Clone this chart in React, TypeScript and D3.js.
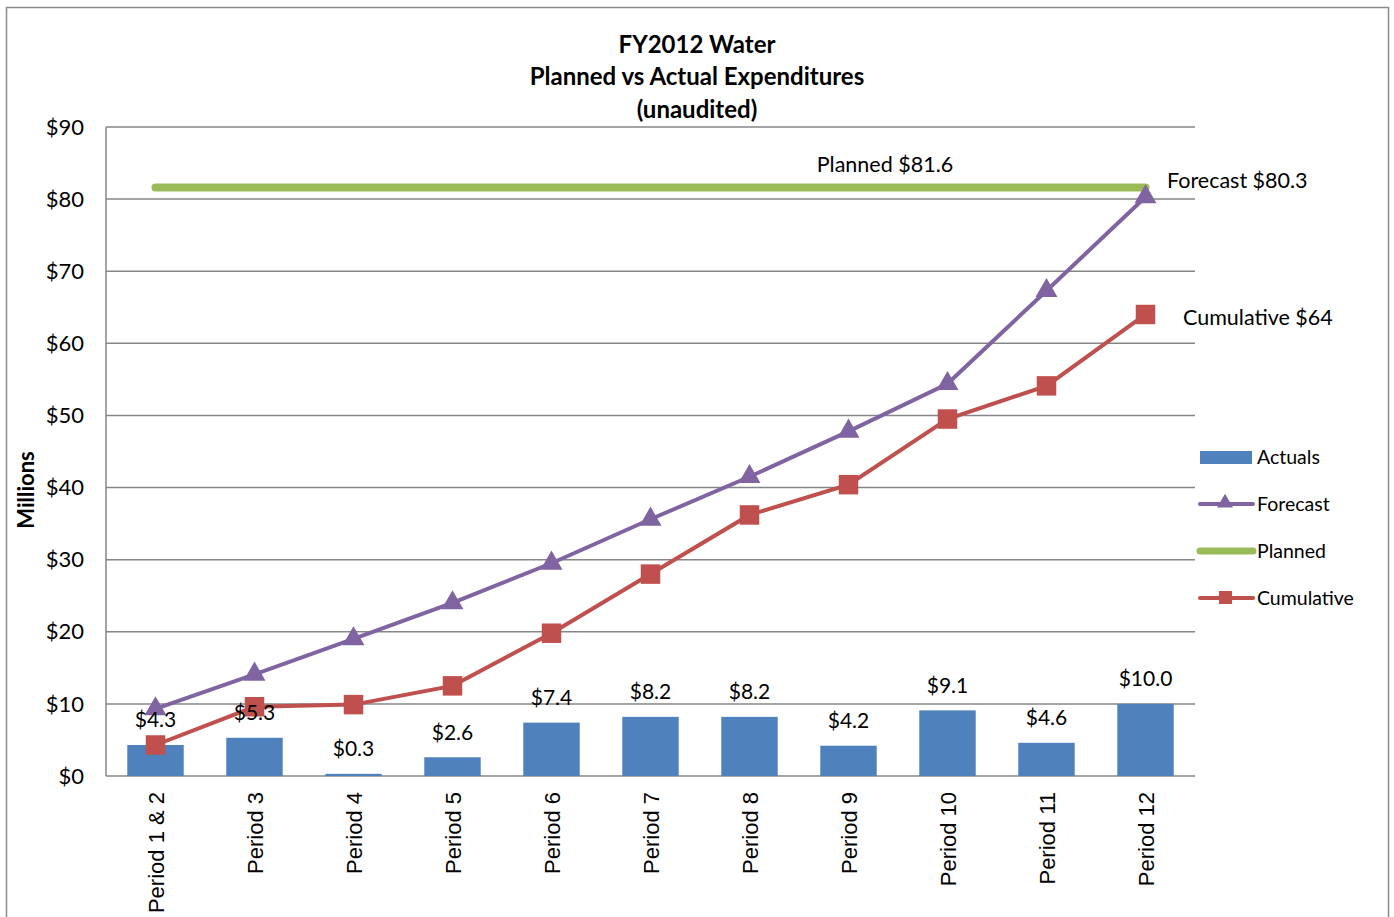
import React from "react";
import * as d3 from "d3";

const periods = ["Period 1 & 2", "Period 3", "Period 4", "Period 5", "Period 6", "Period 7", "Period 8", "Period 9", "Period 10", "Period 11", "Period 12"];
const actuals = [4.3, 5.3, 0.3, 2.6, 7.4, 8.2, 8.2, 4.2, 9.1, 4.6, 10.0];
const forecast = [9.3, 14.1, 19.0, 24.0, 29.5, 35.6, 41.5, 47.8, 54.4, 67.3, 80.3];
const cumulative = [4.3, 9.6, 9.9, 12.5, 19.8, 28.0, 36.2, 40.4, 49.5, 54.1, 64.0];
const planned = 81.6;
const yTicks = [0, 10, 20, 30, 40, 50, 60, 70, 80, 90];

const W = 1394;
const H = 917;
const left = 106;
const right = 1195;
const top = 127;
const bottom = 776;

const calibri = "Lato, 'Open Sans', sans-serif";
const arial = "'Liberation Sans', Arial, sans-serif";

const BLUE = "#4f81bd";
const PURPLE = "#8064a2";
const GREEN = "#9bbb59";
const RED = "#c0504d";

export default function App() {
  const x = d3.scaleBand<string>().domain(periods).range([left, right]).paddingInner(0.43).paddingOuter(0.215);
  const y = d3.scaleLinear().domain([0, 90]).range([bottom, top]);
  const cx = (p: string) => (x(p) ?? 0) + x.bandwidth() / 2;
  const money = d3.format("$.1f");

  const line = d3
    .line<number>()
    .x((_, i) => cx(periods[i]))
    .y((d) => y(d));

  const tri = d3.symbol().type(d3.symbolTriangle).size(210)();
  const sq = d3.symbol().type(d3.symbolSquare).size(380)();

  const first = cx(periods[0]);
  const last = cx(periods[periods.length - 1]);

  const legend = [
    { name: "Actuals", kind: "bar", color: BLUE },
    { name: "Forecast", kind: "tri", color: PURPLE },
    { name: "Planned", kind: "line", color: GREEN },
    { name: "Cumulative", kind: "sq", color: RED },
  ];

  return (
    <div style={{ position: "absolute", left: 0, top: 0 }}>
      <svg width={W} height={H} style={{ display: "block", background: "#fff" }}>
        <rect x={6.5} y={7.5} width={1382} height={H} fill="none" stroke="#8c8c8c" strokeWidth={1.5} />

        <g fontFamily={calibri} fontWeight="bold" fontSize={24} textAnchor="middle" fill="#000">
          <text x={697} y={53}>FY2012 Water</text>
          <text x={697} y={85}>Planned vs Actual Expenditures</text>
          <text x={697} y={118}>(unaudited)</text>
        </g>

        {/* gridlines */}
        {yTicks.map((t) => (
          <g key={t}>
            <line x1={left} x2={right} y1={y(t)} y2={y(t)} stroke="#868686" strokeWidth={1.5} />
            <text x={84} y={y(t)} dy="0.35em" textAnchor="end" fontFamily={calibri} fontSize={22}>
              {"$" + t}
            </text>
          </g>
        ))}
        <line x1={left} x2={left} y1={top} y2={bottom} stroke="#868686" strokeWidth={1.5} />

        <text transform="translate(34,490) rotate(-90)" textAnchor="middle" fontFamily={calibri} fontWeight="bold" fontSize={22}>
          Millions
        </text>

        {/* category labels */}
        {periods.map((p) => (
          <text
            key={p}
            transform={`translate(${cx(p) + 8},792) rotate(-90)`}
            textAnchor="end"
            fontFamily={arial}
            fontSize={22}
          >
            {p}
          </text>
        ))}

        {/* bars */}
        {actuals.map((v, i) => (
          <rect key={i} x={x(periods[i])} y={y(v)} width={x.bandwidth()} height={bottom - y(v)} fill={BLUE} />
        ))}

        {/* planned */}
        <line x1={first} x2={last} y1={y(planned)} y2={y(planned)} stroke={GREEN} strokeWidth={8} strokeLinecap="round" />

        {/* forecast */}
        <path d={line(forecast) ?? ""} fill="none" stroke={PURPLE} strokeWidth={4} />
        {forecast.map((v, i) => (
          <path key={i} d={tri ?? ""} transform={`translate(${cx(periods[i])},${y(v)})`} fill={PURPLE} />
        ))}

        {/* cumulative */}
        <path d={line(cumulative) ?? ""} fill="none" stroke={RED} strokeWidth={4} />
        {cumulative.map((v, i) => (
          <path key={i} d={sq ?? ""} transform={`translate(${cx(periods[i])},${y(v)})`} fill={RED} />
        ))}

        {/* bar labels */}
        {actuals.map((v, i) => (
          <text key={i} x={cx(periods[i])} y={y(v) - 25} dy="0.35em" textAnchor="middle" fontFamily={calibri} fontSize={21}>
            {money(v)}
          </text>
        ))}

        <g fontFamily={calibri} fontSize={21.5}>
          <text x={885} y={y(planned) - 23} dy="0.35em" textAnchor="middle">
            {"Planned " + money(planned)}
          </text>
          <text x={1167} y={y(planned) - 7} dy="0.35em">
            {"Forecast " + money(forecast[forecast.length - 1])}
          </text>
          <text x={1183} y={y(cumulative[cumulative.length - 1]) + 3} dy="0.35em">
            {"Cumulative $" + d3.format(".0f")(cumulative[cumulative.length - 1])}
          </text>
        </g>

        {/* legend */}
        {legend.map((d, i) => {
          const ly = 457 + i * 47;
          return (
            <g key={d.name}>
              {d.kind === "bar" && <rect x={1200} y={ly - 6} width={52} height={13} fill={d.color} />}
              {d.kind !== "bar" && (
                <line x1={1200} x2={1253} y1={ly} y2={ly} stroke={d.color} strokeWidth={d.kind === "line" ? 7 : 4} strokeLinecap="round" />
              )}
              {d.kind === "tri" && <path d={d3.symbol().type(d3.symbolTriangle).size(110)() ?? ""} transform={`translate(1225,${ly - 1})`} fill={d.color} />}
              {d.kind === "sq" && <rect x={1219} y={ly - 7} width={13} height={13} fill={d.color} />}
              <text x={1257} y={ly} dy="0.35em" fontFamily={calibri} fontSize={19.5}>
                {d.name}
              </text>
            </g>
          );
        })}
      </svg>
    </div>
  );
}
